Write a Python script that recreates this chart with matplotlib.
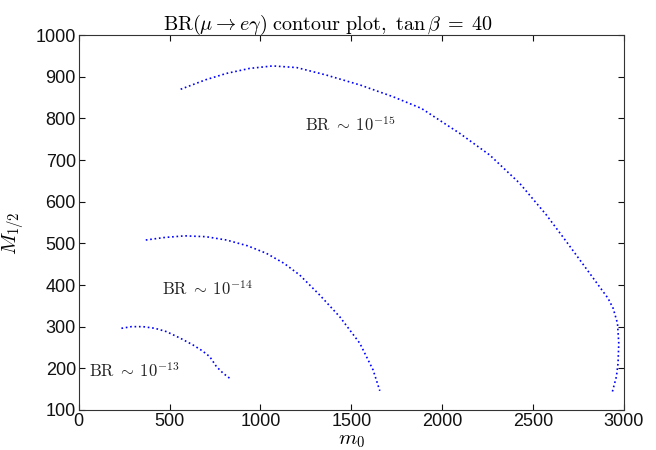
import matplotlib
matplotlib.use("Agg")
import matplotlib.pyplot as plt

plt.rcParams['mathtext.fontset'] = 'cm'

# Contour BR ~ 1e-15
m0_15 = [561, 700, 813, 940, 1068, 1200, 1363, 1550, 1730, 1886, 2097, 2262, 2427, 2574, 2684, 2812, 2913, 2941, 2965, 2972, 2968, 2959, 2937]
M_15  = [870, 893, 908, 920, 926, 922, 904, 880, 852, 824, 764, 712, 644, 568, 504, 428, 368, 344, 308, 260, 212, 180, 144]

# Contour BR ~ 1e-14
m0_14 = [369, 470, 583, 700, 813, 930, 1033, 1130, 1216, 1326, 1436, 1547, 1620, 1657]
M_14  = [508, 514, 518, 516, 508, 494, 476, 452, 424, 376, 324, 260, 196, 146]

# Contour BR ~ 1e-13
m0_13 = [235, 290, 354, 420, 483, 560, 629, 680, 721, 758, 795, 831]
M_13  = [296, 300, 300, 296, 288, 272, 256, 242, 228, 204, 188, 176]

labels = [r'$\mathrm{BR}\;\sim\;10^{-15}$', r'$\mathrm{BR}\;\sim\;10^{-14}$', r'$\mathrm{BR}\;\sim\;10^{-13}$']
label_x = [1497, 707, 303]
label_y = [784, 388, 192]

xticks = [0, 500, 1000, 1500, 2000, 2500, 3000]
yticks = [100, 200, 300, 400, 500, 600, 700, 800, 900, 1000]

fig = plt.figure(figsize=(6.56, 4.5), dpi=100)
ax = fig.add_axes([0.120, 0.089, 0.831, 0.833])

for xs, ys in [(m0_15, M_15), (m0_14, M_14), (m0_13, M_13)]:
    ax.plot(xs, ys, linestyle=':', color='#0000ff', linewidth=1.2)

for t, x, y in zip(labels, label_x, label_y):
    ax.text(x, y, t, ha='center', va='center', fontsize=12, color='#222222')

ax.set_xlim(0, 3000)
ax.set_ylim(100, 1000)
ax.set_xticks(xticks)
ax.set_yticks(yticks)
ax.tick_params(direction='in', top=True, right=True, length=4, width=0.8,
               labelsize=13, pad=2, colors='#111111')
for lab in ax.get_xticklabels() + ax.get_yticklabels():
    lab.set_family('Liberation Sans')
for s in ax.spines.values():
    s.set_linewidth(0.8)
    s.set_color('#333333')

ax.set_title(r'$\mathrm{BR}(\mu\rightarrow e\gamma)\ \mathrm{contour\ plot,}\ \tan\beta\;=\;40$',
             fontsize=14.5, pad=4, x=0.457)
ax.set_xlabel(r'$m_0$', fontsize=15, labelpad=0)
ax.set_ylabel(r'$M_{1/2}$', fontsize=15, labelpad=-2)
ax.yaxis.set_label_coords(-0.095, 0.47)

fig.savefig('out.png', dpi=100)
